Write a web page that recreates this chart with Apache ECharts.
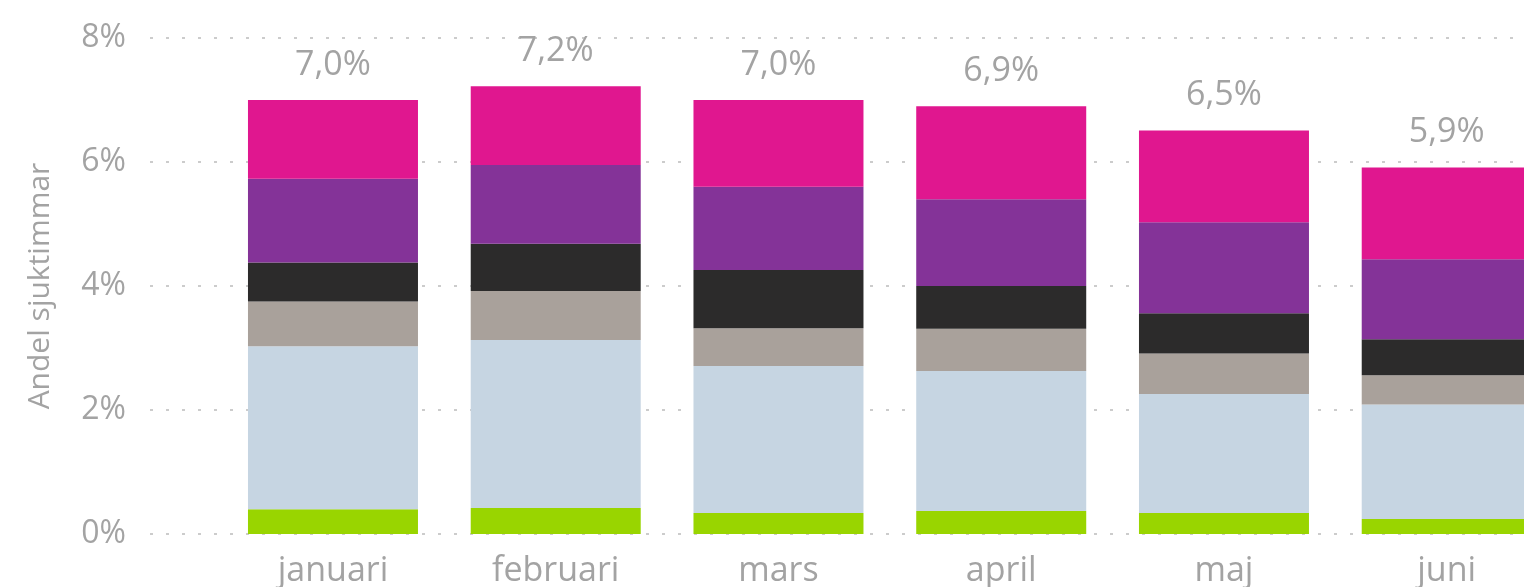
<!DOCTYPE html>
<html>
<head>
<meta charset="utf-8">
<script src="https://cdn.jsdelivr.net/npm/echarts@6/dist/echarts.min.js"></script>
<style>
  html, body { margin: 0; padding: 0; background: #fff; }
  #chart { width: 1524px; height: 587px; }
</style>
</head>
<body>
<div id="chart"></div>
<script>
var months = ['januari', 'februari', 'mars', 'april', 'maj', 'juni'];
var yTicks = [0, 2, 4, 6, 8];

// andel sjuktimmar per del, i procent (nedifrån och upp)
var gron = [0.40, 0.42, 0.34, 0.37, 0.34, 0.24];
var ljusbla = [2.63, 2.71, 2.37, 2.26, 1.92, 1.85];
var gra = [0.72, 0.79, 0.61, 0.68, 0.65, 0.47];
var svart = [0.63, 0.76, 0.94, 0.69, 0.65, 0.58];
var lila = [1.35, 1.27, 1.34, 1.40, 1.47, 1.29];
var rosa = [1.27, 1.27, 1.40, 1.50, 1.48, 1.48];
var totals = ['7,0%', '7,2%', '7,0%', '6,9%', '6,5%', '5,9%'];

var myChart = echarts.init(document.getElementById('chart'));

var textColor = '#a3a3a3';
var font = 'Open Sans';

function bar(name, data, color) {
    return {
        name: name,
        type: 'bar',
        stack: 'total',
        xAxisIndex: 1,
        yAxisIndex: 1,
        barWidth: 170,
        itemStyle: { color: color },
        data: data
    };
}

var series = [
    bar('grön', gron, '#99d500'),
    bar('ljusblå', ljusbla, '#c6d5e2'),
    bar('grå', gra, '#a9a19b'),
    bar('svart', svart, '#2c2b2b'),
    bar('lila', lila, '#843398'),
    bar('rosa', rosa, '#e0178f')
];
series[5].label = {
    show: true,
    position: 'top',
    distance: 18,
    color: textColor,
    fontFamily: font,
    fontSize: 34,
    formatter: function (p) { return totals[p.dataIndex]; }
};

var option = {
    animation: false,
    grid: [
        { left: 150, right: 0, top: 38, bottom: 53, outerBoundsMode: 'none' },
        // the last bar runs off the right edge, as in the original
        { left: 221.6, width: 1336.5, top: 38, bottom: 53, outerBoundsMode: 'none' }
    ],
    xAxis: [
        { type: 'category', gridIndex: 0, data: months, show: false },
        {
            type: 'category',
            gridIndex: 1,
            data: months,
            axisLine: { show: false },
            axisTick: { show: false },
            axisLabel: {
                color: textColor,
                fontFamily: font,
                fontSize: 34,
                margin: 20
            }
        }
    ],
    yAxis: [
        {
            type: 'value',
            gridIndex: 0,
            min: yTicks[0],
            max: yTicks[yTicks.length - 1],
            interval: 2,
            name: 'Andel sjuktimmar',
            nameLocation: 'middle',
            nameGap: 95,
            nameTextStyle: { color: textColor, fontFamily: font, fontSize: 30 },
            axisLine: { show: false },
            axisTick: { show: false },
            axisLabel: {
                color: textColor,
                fontFamily: font,
                fontSize: 32,
                margin: 24,
                formatter: '{value}%'
            },
            splitLine: {
                lineStyle: { color: '#cccccc', type: [3, 13], width: 2 }
            }
        },
        {
            type: 'value',
            gridIndex: 1,
            min: 0,
            max: 8,
            show: false,
            splitLine: { show: false }
        }
    ],
    series: series
};

myChart.setOption(option);
</script>
</body>
</html>
